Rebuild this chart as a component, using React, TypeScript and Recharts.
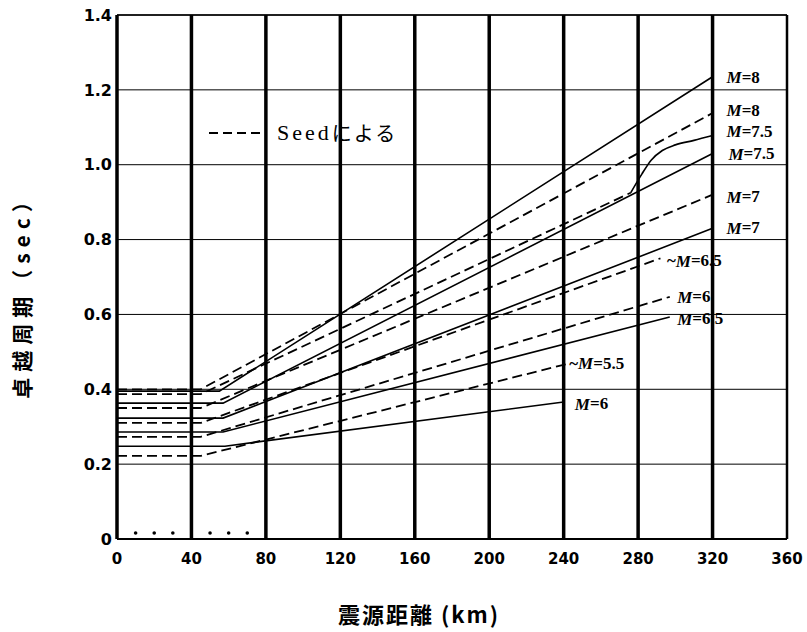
import { ComposedChart, Line, XAxis, YAxis, CartesianGrid, ReferenceLine, Scatter, Label } from "recharts";

// axis ticks
const xTicks = [0, 40, 80, 120, 160, 200, 240, 280, 320, 360];
const yTicks = [0, 0.2, 0.4, 0.6, 0.8, 1.0, 1.2, 1.4];
const heavyLines = [40, 80, 120, 160, 200, 240, 280, 320];

// 本研究 (solid)
const solidM8 = [{ x: 0, y: 0.395 }, { x: 55, y: 0.395 }, { x: 320, y: 1.235 }];
const solidM75 = [{ x: 0, y: 0.363 }, { x: 57, y: 0.363 }, { x: 320, y: 1.03 }];
const solidM7 = [{ x: 0, y: 0.323 }, { x: 57, y: 0.323 }, { x: 320, y: 0.83 }];
const solidM65 = [{ x: 0, y: 0.286 }, { x: 57, y: 0.286 }, { x: 297, y: 0.593 }];
const solidM6 = [{ x: 0, y: 0.248 }, { x: 58, y: 0.248 }, { x: 240, y: 0.366 }];

// Seedによる (dashed)
const seedM8 = [{ x: 0, y: 0.4 }, { x: 45, y: 0.4 }, { x: 320, y: 1.138 }];
const seedM75 = [{ x: 0, y: 0.387 }, { x: 45, y: 0.387 }, { x: 276, y: 0.925 }];
const seedM75Tail = [
  { x: 276, y: 0.925 }, { x: 282, y: 0.975 }, { x: 287, y: 1.012 }, { x: 293, y: 1.038 },
  { x: 300, y: 1.053 }, { x: 310, y: 1.065 }, { x: 320, y: 1.078 },
];
const seedM7 = [{ x: 0, y: 0.35 }, { x: 45, y: 0.35 }, { x: 320, y: 0.92 }];
const seedM65 = [{ x: 0, y: 0.31 }, { x: 45, y: 0.31 }, { x: 292, y: 0.75 }];
const seedM6 = [{ x: 0, y: 0.273 }, { x: 45, y: 0.273 }, { x: 297, y: 0.647 }];
const seedM55 = [{ x: 0, y: 0.222 }, { x: 45, y: 0.222 }, { x: 242, y: 0.468 }];

const curveLabels = [
  { x: 327.5, y: 1.234, lead: "", mag: "8" },
  { x: 327.5, y: 1.146, lead: "", mag: "8" },
  { x: 327.5, y: 1.09, lead: "", mag: "7.5" },
  { x: 328.5, y: 1.029, lead: "", mag: "7.5" },
  { x: 327.5, y: 0.914, lead: "", mag: "7" },
  { x: 327.5, y: 0.831, lead: "", mag: "7" },
  { x: 295.5, y: 0.743, lead: "~", mag: "6.5" },
  { x: 301, y: 0.647, lead: "", mag: "6" },
  { x: 301, y: 0.588, lead: "", mag: "6.5" },
  { x: 243, y: 0.47, lead: "~", mag: "5.5" },
  { x: 246, y: 0.361, lead: "", mag: "6" },
];

const minorDots = [10, 20, 30, 50, 60, 70].map((x) => ({ x, y: 0.016 }));

const solidSeries = [solidM8, solidM75, solidM7, solidM65, solidM6];
const seedSeries = [seedM8, seedM75, seedM7, seedM65, seedM6, seedM55];

const numFont = "'DejaVu Sans', sans-serif";

function SeedLegend() {
  return (
    <div
      style={{
        position: "absolute",
        left: 209,
        top: 118,
        display: "flex",
        alignItems: "center",
        fontSize: 22,
        color: "#000",
        pointerEvents: "none",
      }}
    >
      <svg width={58} height={6}>
        <line x1={0} y1={3} x2={58} y2={3} stroke="#000" strokeWidth={2} strokeDasharray="9 5" />
      </svg>
      <span style={{ marginLeft: 10, letterSpacing: 3, fontFamily: "'Liberation Serif', serif" }}>Seed</span>
      <span style={{ letterSpacing: 2, fontFamily: "'Noto Sans CJK JP', sans-serif", fontSize: 20 }}>による</span>
    </div>
  );
}

export default function App() {
  return (
    <div style={{ position: "absolute", left: 0, top: 0, width: 807, height: 632 }}>
      <ComposedChart width={807} height={632} margin={{ top: 15, right: 20, bottom: 0, left: 0 }}>
        <CartesianGrid vertical={false} stroke="#000" strokeWidth={1} />
        {heavyLines.map((x) => (
          <ReferenceLine key={x} x={x} stroke="#000" strokeWidth={3.5} />
        ))}
        <ReferenceLine y={1.4} stroke="#000" strokeWidth={1.5} />
        <ReferenceLine x={360} stroke="#000" strokeWidth={2.5} />
        <XAxis
          type="number"
          dataKey="x"
          domain={[0, 360]}
          ticks={xTicks}
          interval={0}
          height={93}
          tickLine={false}
          tickMargin={8}
          axisLine={{ stroke: "#000", strokeWidth: 2 }}
          tick={{ fill: "#000", fontSize: 15, fontWeight: 700, fontFamily: numFont }}
        >
          <Label
            content={({ viewBox }: any) => (
              <text
                x={viewBox.x + viewBox.width / 2 - 33}
                y={viewBox.y + 74}
                textAnchor="middle"
                dominantBaseline="central"
                fontFamily="'Noto Sans CJK JP', serif"
                fontWeight={700}
                fontSize={22}
                letterSpacing={2}
                fill="#000"
              >
                震源距離 (km)
              </text>
            )}
          />
        </XAxis>
        <YAxis
          type="number"
          dataKey="y"
          domain={[0, 1.4]}
          ticks={yTicks}
          interval={0}
          width={117}
          tickLine={false}
          tickSize={0}
          tickMargin={5}
          axisLine={{ stroke: "#000", strokeWidth: 3.5 }}
          tickFormatter={(v: number) => (v === 0 ? "0" : v.toFixed(1))}
          tick={{ fill: "#000", fontSize: 16, fontWeight: 700, fontFamily: numFont }}
        >
          <Label
            content={({ viewBox }: any) => {
              const cx = viewBox.x + 21;
              const cy = viewBox.y + viewBox.height / 2 + 15;
              return (
                <text
                  x={cx}
                  y={cy}
                  transform={`rotate(-90 ${cx} ${cy})`}
                  textAnchor="middle"
                  dominantBaseline="central"
                  fontFamily="'Noto Sans CJK JP', serif"
                  fontWeight={700}
                  fontSize={21}
                  letterSpacing={6}
                  fill="#000"
                >
                  卓越周期（sec）
                </text>
              );
            }}
          />
        </YAxis>
        {solidSeries.map((d, i) => (
          <Line
            key={`s${i}`}
            data={d}
            dataKey="y"
            type="linear"
            stroke="#000"
            strokeWidth={1.6}
            dot={false}
            isAnimationActive={false}
            legendType="none"
          />
        ))}
        {seedSeries.map((d, i) => (
          <Line
            key={`d${i}`}
            data={d}
            dataKey="y"
            type="linear"
            stroke="#000"
            strokeWidth={1.8}
            strokeDasharray="10 5"
            dot={false}
            isAnimationActive={false}
            legendType="none"
          />
        ))}
        <Line
          data={seedM75Tail}
          dataKey="y"
          type="monotone"
          stroke="#000"
          strokeWidth={1.6}
          dot={false}
          isAnimationActive={false}
          legendType="none"
        />
        <Scatter
          data={minorDots}
          dataKey="y"
          isAnimationActive={false}
          legendType="none"
          shape={(p: any) => <circle cx={p.cx} cy={p.cy} r={1.8} fill="#000" />}
        />
        <Scatter
          data={curveLabels}
          dataKey="y"
          isAnimationActive={false}
          legendType="none"
          shape={(p: any) => (
            <text
              x={p.cx}
              y={p.cy}
              dominantBaseline="central"
              fontFamily="'Liberation Serif', serif"
              fontWeight={700}
              fontSize={17}
              fill="#000"
            >
              {p.payload.lead}
              <tspan fontStyle="italic">M</tspan>={p.payload.mag}
            </text>
          )}
        />
      </ComposedChart>
      <SeedLegend />
    </div>
  );
}
